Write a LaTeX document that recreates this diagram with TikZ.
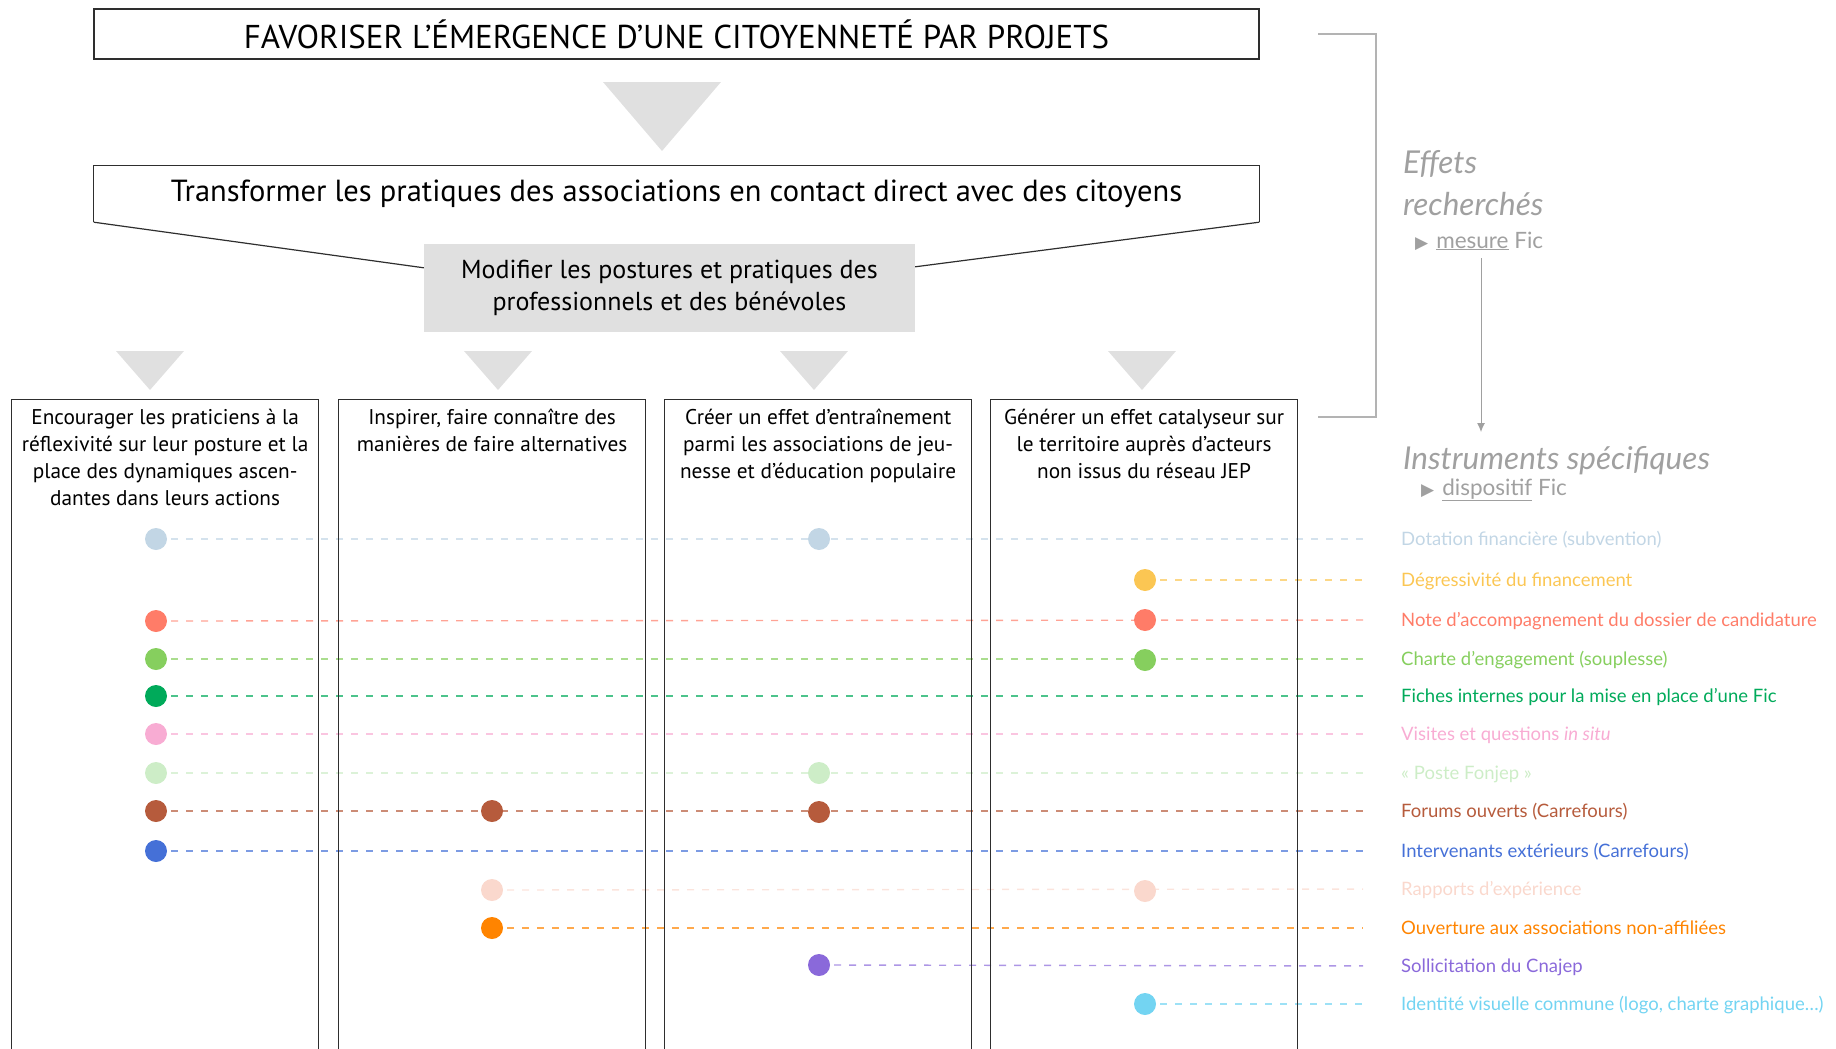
\documentclass[tikz,border=0pt]{standalone}
\usepackage{fontspec}
\setmainfont{PT Sans}
\newfontfamily\labfont{Lato}
\newfontfamily\symfont{DejaVu Sans}
\usetikzlibrary{positioning,backgrounds,arrows.meta}

\definecolor{frame}{HTML}{2E2E2E}
\definecolor{boxgrey}{HTML}{E0E0E0}
\definecolor{notegrey}{HTML}{A0A0A0}
\definecolor{cDotation}{HTML}{C2D6E5}
\definecolor{cDegress}{HTML}{FBC653}
\definecolor{cNote}{HTML}{FF7C68}
\definecolor{cCharte}{HTML}{86CF5E}
\definecolor{cFiches}{HTML}{00AA5A}
\definecolor{cVisites}{HTML}{F8ACD3}
\definecolor{cFonjep}{HTML}{CDEDC7}
\definecolor{cForums}{HTML}{B65B3C}
\definecolor{cInterv}{HTML}{4570D7}
\definecolor{cRapports}{HTML}{FAD8CD}
\definecolor{cOuvert}{HTML}{FF8400}
\definecolor{cCnajep}{HTML}{8A69DA}
\definecolor{cIdent}{HTML}{73D4F2}

\tikzset{
  goalbox/.style={draw=frame, line width=1.2pt, minimum width=1165pt, minimum height=50pt, inner sep=0pt},
  greybox/.style={fill=boxgrey, minimum width=491pt, minimum height=88pt, align=center, inner sep=0pt},
  colbox/.style={draw=frame, line width=1.2pt, minimum width=307pt, minimum height=700pt, inner sep=0pt},
  headtxt/.style={align=center, inner sep=0pt, font=\fontsize{21.3}{27}\selectfont},
  tri/.style={fill=boxgrey},
  dot/.style={circle, minimum size=22pt, inner sep=0pt},
  rowline/.style={dash pattern=on 7pt off 8pt, line width=1.4pt, draw opacity=0.7, shorten >=38pt},
  lab/.style={anchor=west, inner sep=0pt, text height=14pt, text depth=2pt, font=\labfont\fontsize{18.5}{22}\selectfont},
  notetxt/.style={inner sep=0pt, text=notegrey, font=\labfont\fontsize{31.5}{42}\selectfont\itshape, align=left},
  subnote/.style={inner sep=0pt, text=notegrey, font=\labfont\fontsize{22.5}{26}\selectfont},
  bracket/.style={draw=notegrey!80, line width=1.3pt}
}

\begin{document}
\begin{tikzpicture}[x=1pt, y=-1pt]
  \useasboundingbox (0,0) rectangle (1836,1049);

  % objectifs
  \node[goalbox, font=\fontsize{33}{38}\selectfont] (goal) at (676.5,34) {FAVORISER L’ÉMERGENCE D’UNE CITOYENNETÉ PAR PROJETS};
  \fill[tri] (603,82) -- (721,82) -- (662,151) -- cycle;
  \node[minimum width=1165pt, minimum height=56pt, inner sep=0pt, font=\fontsize{30.5}{36}\selectfont] (transf) at (676.5,194) {Transformer les pratiques des associations en contact direct avec des citoyens};
  \node[greybox, font=\fontsize{26}{32}\selectfont] (modif) at (669.5,288) {Modifier les postures et pratiques des\\professionnels et des bénévoles};
  \draw[frame, line width=1.2pt] (transf.south west) -- (transf.north west) -- (transf.north east) -- (transf.south east);
  \draw[frame, line width=1.2pt] (transf.south west) -- ([yshift=-24pt]modif.north west);
  \draw[frame, line width=1.2pt] (transf.south east) -- ([yshift=-23pt]modif.north east);

  % colonnes
  \node[colbox, anchor=north west] (col1) at (11,399) {};
  \node[colbox, anchor=north west] (col2) at (338,399) {};
  \node[colbox, anchor=north west] (col3) at (664,399) {};
  \node[colbox, anchor=north west] (col4) at (990,399) {};
  \fill[tri] (116,351) -- (184,351) -- (150,390) -- cycle;
  \fill[tri] (464,351) -- (532,351) -- (498,390) -- cycle;
  \fill[tri] (780,351) -- (848,351) -- (814,390) -- cycle;
  \fill[tri] (1108,351) -- (1176,351) -- (1142,390) -- cycle;
  \node[headtxt, below=10pt of col1.north] (head1) {Encourager les praticiens à la\\réflexivité sur leur posture et la\\place des dynamiques ascen-\\dantes dans leurs actions};
  \node[headtxt, below=10pt of col2.north] (head2) {Inspirer, faire connaître des\\manières de faire alternatives};
  \node[headtxt, below=10pt of col3.north] (head3) {Créer un effet d’entraînement\\parmi les associations de jeu-\\nesse et d’éducation populaire};
  \node[headtxt, below=10pt of col4.north] (head4) {Générer un effet catalyseur sur\\le territoire auprès d’acteurs\\non issus du réseau JEP};

  % effets / instruments
  \draw[bracket] (1318,34) -| (1376,417) -- (1318,417);
  \node[notetxt, anchor=north west] (effets) at (1403,150) {Effets\\recherchés};
  \node[subnote, anchor=base west] (mesure) at (1415,248) {{\symfont\fontsize{17}{17}\selectfont ▶}\hspace{8pt}\underline{mesure} Fic};
  \node[notetxt, anchor=north west] (instr) at (1403,446) {Instruments spécifiques};
  \node[subnote, anchor=base west] (dispo) at (1421,495) {{\symfont\fontsize{17}{17}\selectfont ▶}\hspace{8pt}\underline{dispositif} Fic};
  \coordinate (arrx) at (1481,0);
  \draw[notegrey, line width=1pt, -{Latex[length=9pt,width=8pt]}, shorten <=8pt, shorten >=14pt] (mesure.south -| arrx) -- (instr.north -| arrx);

  % instruments : pastilles
  \node[dot, fill=cDotation] (d1a) at (156,539) {};
  \node[dot, fill=cDotation] (d1c) at (819,539) {};
  \node[lab, text=cDotation] (l1) at (1401,539) {Dotation financière (subvention)};
  \node[dot, fill=cDegress] (d2d) at (1145,580) {};
  \node[lab, text=cDegress] (l2) at (1401,580) {Dégressivité du financement};
  \node[dot, fill=cNote] (d3a) at (156,621) {};
  \node[dot, fill=cNote] (d3d) at (1145,620) {};
  \node[lab, text=cNote] (l3) at (1401,620) {Note d’accompagnement du dossier de candidature};
  \node[dot, fill=cCharte] (d4a) at (156,659) {};
  \node[dot, fill=cCharte] (d4d) at (1145,660) {};
  \node[lab, text=cCharte] (l4) at (1401,659) {Charte d’engagement (souplesse)};
  \node[dot, fill=cFiches] (d5a) at (156,696) {};
  \node[lab, text=cFiches] (l5) at (1401,696) {Fiches internes pour la mise en place d’une Fic};
  \node[dot, fill=cVisites] (d6a) at (156,734) {};
  \node[lab, text=cVisites] (l6) at (1401,734) {Visites et questions \textit{in situ}};
  \node[dot, fill=cFonjep] (d7a) at (156,773) {};
  \node[dot, fill=cFonjep] (d7c) at (819,773) {};
  \node[lab, text=cFonjep] (l7) at (1401,773) {« Poste Fonjep »};
  \node[dot, fill=cForums] (d8a) at (156,811) {};
  \node[dot, fill=cForums] (d8b) at (492,811) {};
  \node[dot, fill=cForums] (d8c) at (819,812) {};
  \node[lab, text=cForums] (l8) at (1401,811) {Forums ouverts (Carrefours)};
  \node[dot, fill=cInterv] (d9a) at (156,851) {};
  \node[lab, text=cInterv] (l9) at (1401,851) {Intervenants extérieurs (Carrefours)};
  \node[dot, fill=cRapports] (d10b) at (492,890) {};
  \node[dot, fill=cRapports] (d10d) at (1145,891) {};
  \node[lab, text=cRapports] (l10) at (1401,889) {Rapports d’expérience};
  \node[dot, fill=cOuvert] (d11b) at (492,928) {};
  \node[lab, text=cOuvert] (l11) at (1401,928) {Ouverture aux associations non-affiliées};
  \node[dot, fill=cCnajep] (d12c) at (819,965) {};
  \node[lab, text=cCnajep] (l12) at (1401,966) {Sollicitation du Cnajep};
  \node[dot, fill=cIdent] (d13d) at (1145,1004) {};
  \node[lab, text=cIdent] (l13) at (1401,1004) {Identité visuelle commune (logo, charte graphique…)};

  % lignes pointillees sous les pastilles
  \begin{scope}[on background layer]
    \draw[rowline, cDotation] (d1a.center) -- (l1.west);
    \draw[rowline, cDegress] (d2d.center) -- (l2.west);
    \draw[rowline, cNote] (d3a.center) -- (l3.west);
    \draw[rowline, cCharte] (d4a.center) -- (l4.west);
    \draw[rowline, cFiches] (d5a.center) -- (l5.west);
    \draw[rowline, cVisites] (d6a.center) -- (l6.west);
    \draw[rowline, cFonjep] (d7a.center) -- (l7.west);
    \draw[rowline, cForums] (d8a.center) -- (l8.west);
    \draw[rowline, cInterv] (d9a.center) -- (l9.west);
    \draw[rowline, cRapports] (d10b.center) -- (l10.west);
    \draw[rowline, cOuvert] (d11b.center) -- (l11.west);
    \draw[rowline, cCnajep] (d12c.center) -- (l12.west);
    \draw[rowline, cIdent] (d13d.center) -- (l13.west);
  \end{scope}
\end{tikzpicture}
\end{document}
